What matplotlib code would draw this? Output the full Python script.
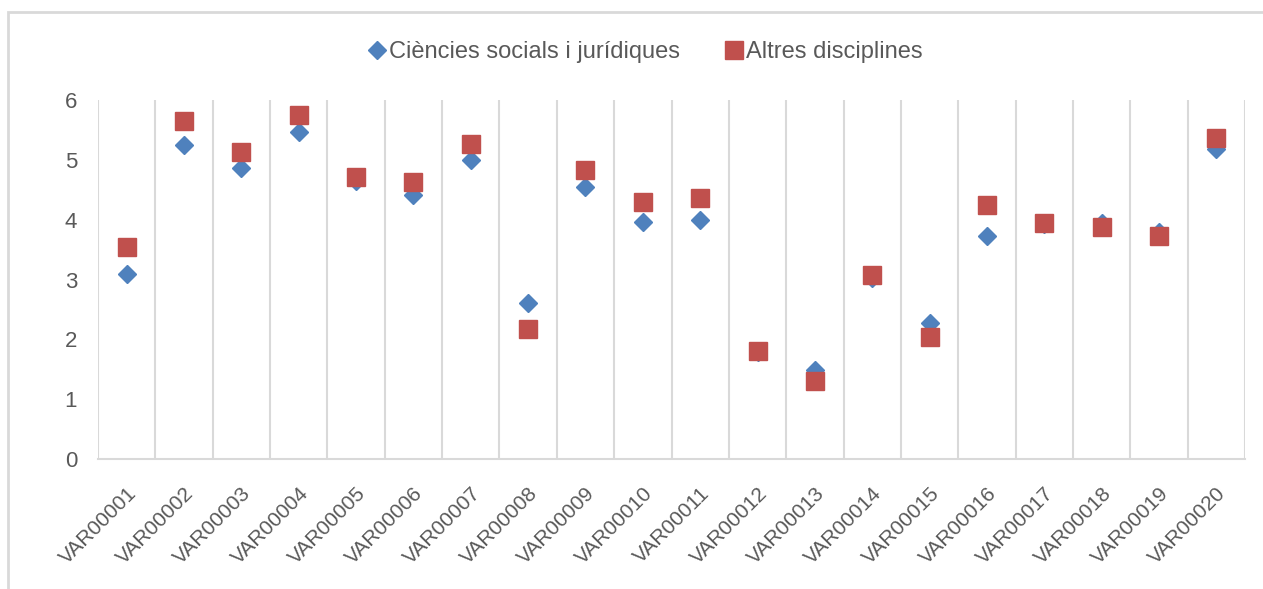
import matplotlib
matplotlib.use('Agg')
import matplotlib.pyplot as plt
from matplotlib.patches import Rectangle

# categories and series values
categories = ['VAR%05d' % i for i in range(1, 21)]
socials = [3.10, 5.25, 4.86, 5.46, 4.64, 4.41, 4.99, 2.61, 4.54, 3.96,
           3.99, 1.79, 1.49, 3.03, 2.28, 3.72, 3.93, 3.95, 3.80, 5.18]
altres = [3.55, 5.65, 5.13, 5.75, 4.71, 4.63, 5.26, 2.18, 4.83, 4.29,
          4.36, 1.81, 1.31, 3.08, 2.04, 4.24, 3.94, 3.88, 3.72, 5.36]
yticks = [0, 1, 2, 3, 4, 5, 6]

blue = '#4F81BD'
red = '#C0504D'
grey_txt = '#595959'
grid_col = '#D9D9D9'

plt.rcParams['font.family'] = ['Liberation Sans', 'DejaVu Sans']

fig = plt.figure(figsize=(12.63, 5.89), dpi=100)
ax = fig.add_axes([98/1263, 1 - 459/589, (1245-98)/1263, (459-100)/589])

x = list(range(len(categories)))
ax.plot(x, socials, linestyle='none', marker='D', markersize=9.5,
        color=blue, label='Ciències socials i jurídiques', zorder=3)
ax.plot(x, altres, linestyle='none', marker='s', markersize=12.5,
        color=red, label='Altres disciplines', zorder=4)

# vertical lines at category boundaries
for b in range(len(categories) + 1):
    ax.axvline(b - 0.5, color=grid_col, linewidth=1.5, zorder=1)

ax.set_xlim(-0.5, len(categories) - 0.5)
ax.set_ylim(0, 6)
ax.set_yticks(yticks)
ax.set_yticklabels([str(v) for v in yticks])
ax.set_xticks(x)
ax.set_xticklabels(categories, rotation=45, ha='right', va='top',
                   rotation_mode='anchor', fontsize=15)

for s in ['top', 'right', 'left']:
    ax.spines[s].set_visible(False)
ax.spines['bottom'].set_color(grid_col)
ax.spines['bottom'].set_linewidth(1.5)

ax.tick_params(axis='both', length=0, labelsize=16, colors=grey_txt)
ax.tick_params(axis='x', pad=18, labelsize=15)
ax.tick_params(axis='y', pad=15)

ax.legend(loc='lower center', bbox_to_anchor=(0.478, 1.077), ncol=2,
          frameon=False, fontsize=17, labelcolor=grey_txt,
          handlelength=0.6, handletextpad=0.2, columnspacing=2.0,
          borderaxespad=0)

# outer chart border
fig.patches.append(Rectangle((8/1263, -0.1), 1.2, 1 - 12/589 + 0.1,
                             transform=fig.transFigure, fill=False,
                             edgecolor=grid_col, linewidth=2))

fig.savefig('out.png', dpi=100, facecolor='white')
